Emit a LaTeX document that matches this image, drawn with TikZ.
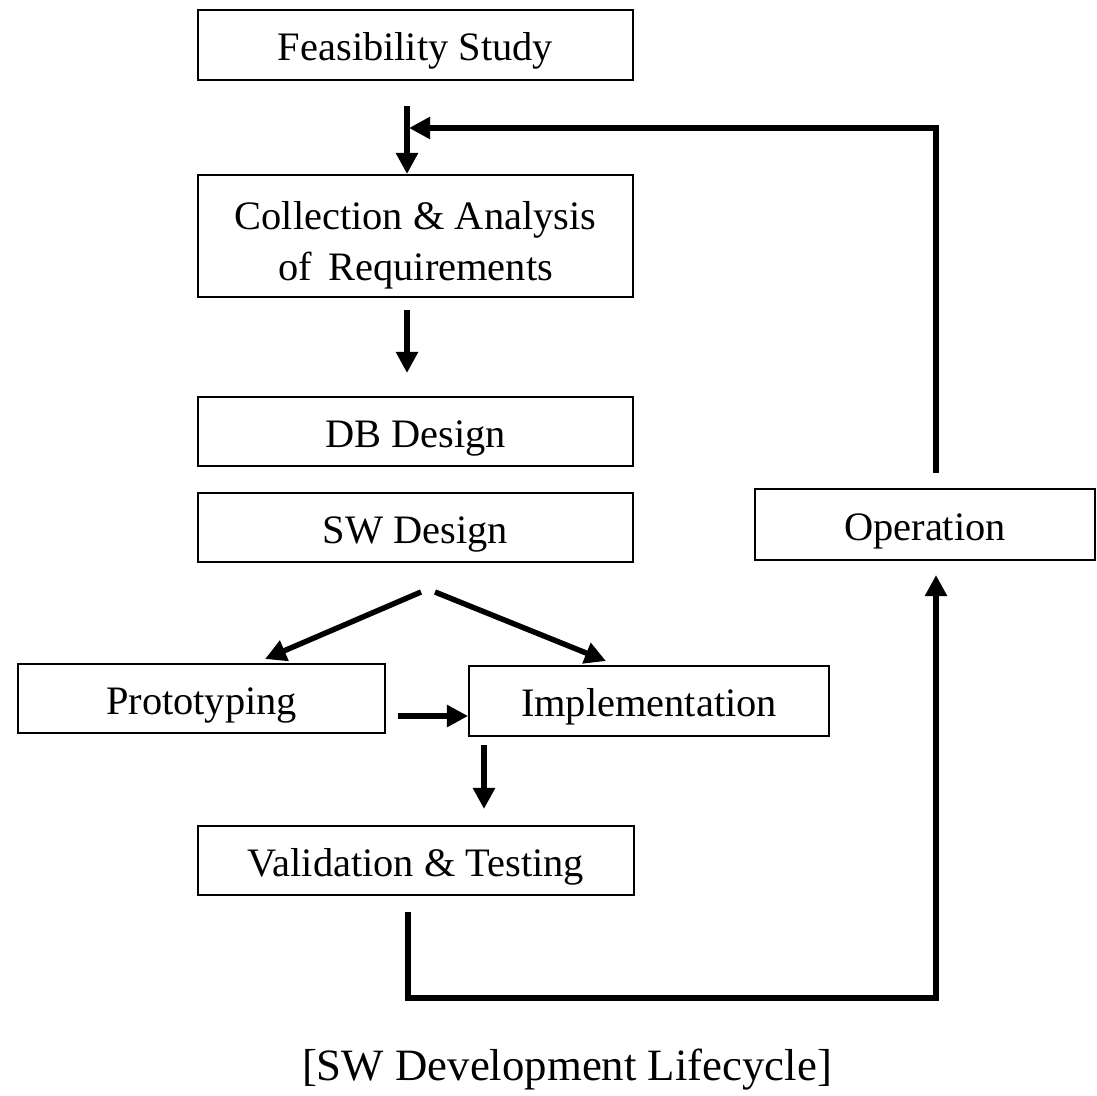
\documentclass[tikz,border=0pt]{standalone}
\usepackage{fontspec}
\setmainfont{Liberation Serif}
\usetikzlibrary{arrows.meta}

\tikzset{
  stage/.style={draw, line width=1.1pt, rectangle, inner sep=0pt,
    font=\fontsize{23}{29}\selectfont, align=center},
  oneline/.style={text height=20pt, text depth=2pt},
  flow/.style={line width=3.1pt, -{Triangle[length=12pt,width=12pt]}},
}

\begin{document}
\begin{tikzpicture}[x=0.02cm,y=-0.02cm]
\useasboundingbox (0,0) rectangle (1097,1095);

% stages of the lifecycle
\node[stage, oneline, minimum width=8.7cm, minimum height=1.4cm] (feas) at (415.5,45) {Feasibility Study};
\node[stage, minimum width=8.7cm, minimum height=2.44cm] (coll) at (415.5,236) {\raisebox{0pt}[26pt][4pt]{}Collection \& Analysis\\of\, Requirements};
\node[stage, oneline, minimum width=8.7cm, minimum height=1.38cm] (db) at (415.5,431.5) {DB Design};
\node[stage, oneline, minimum width=8.7cm, minimum height=1.38cm] (sw) at (415.5,527.5) {SW Design};
\node[stage, oneline, minimum width=6.8cm, minimum height=1.42cm] (op) at (925,524.5) {Operation};
\node[stage, oneline, minimum width=7.34cm, minimum height=1.38cm] (proto) at (201.5,698.5) {Prototyping};
\node[stage, oneline, minimum width=7.2cm, minimum height=1.4cm] (impl) at (649,701) {Implementation};
\node[stage, oneline, minimum width=8.72cm, minimum height=1.38cm] (val) at (416,860.5) {Validation \& Testing};

\node[font=\fontsize{25.5}{30}\selectfont] (cap) at (567,1070) {[SW Development Lifecycle]};

% free ends of the connectors
\coordinate (a1) at (407,106);
\coordinate (a2) at (407,310);
\coordinate (a2e) at (407,373);
\coordinate (s1) at (421,592);
\coordinate (s1e) at (265,659);
\coordinate (s2) at (435,592);
\coordinate (s2e) at (606,661);
\coordinate (p1) at (398,716);
\coordinate (i1) at (484,745);
\coordinate (i1e) at (484,809);
\coordinate (v1) at (408,912);
\coordinate (v2) at (408,998);
\coordinate (v3) at (936,998);
\coordinate (v4) at (936,575);
\coordinate (o1) at (936,473);
\coordinate (o2) at (936,128);
\coordinate (o3) at (409,128);

% connectors
\draw[flow] (a1) -- (a1 |- coll.north);
\draw[flow] (a2) -- (a2e);
\draw[flow] (s1) -- (s1e);
\draw[flow] (s2) -- (s2e);
\draw[flow] (p1) -- (p1 -| impl.west);
\draw[flow] (i1) -- (i1e);
\draw[flow] (v1) -- (v2) -- (v3) -- (v4);
\draw[flow] (o1) -- (o2) -- (o3);
\end{tikzpicture}
\end{document}
